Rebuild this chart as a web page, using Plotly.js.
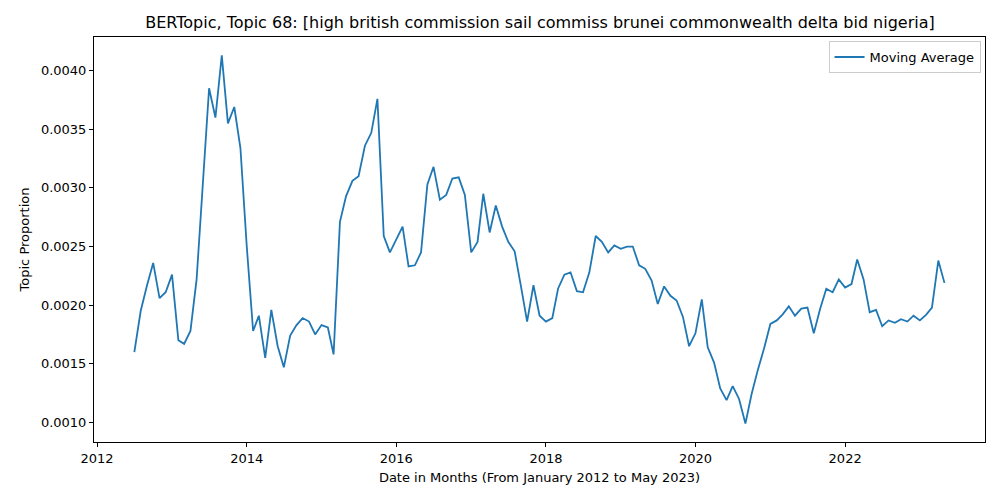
<!DOCTYPE html>
<html>
<head>
<meta charset="utf-8">
<script src="https://cdn.plot.ly/plotly-3.0.1.min.js"></script>
<style>body{margin:0;background:#fff}#graph{width:1000px;height:500px}</style>
</head>
<body>
<div id="graph"></div>
<script>
// monthly moving average, July 2012 .. May 2023
const startYear = 2012, startMonth = 7;
const movingAverage = [
  0.00160, 0.00195, 0.00217, 0.00236, 0.00206, 0.00211,
  0.00226, 0.00170, 0.00167, 0.00178, 0.00222, 0.00310, 0.00385, 0.00360, 0.00413, 0.00355, 0.00369, 0.00334,
  0.00250, 0.00178, 0.00191, 0.00155, 0.00196, 0.00165, 0.00147, 0.00174, 0.00183, 0.00189, 0.00186, 0.00175,
  0.00183, 0.00181, 0.00158, 0.00271, 0.00293, 0.00306, 0.00310, 0.00336, 0.00347, 0.00376, 0.00259, 0.00245,
  0.00256, 0.00267, 0.00233, 0.00234, 0.00245, 0.00303, 0.00318, 0.00290, 0.00294, 0.00308, 0.00309, 0.00294,
  0.00245, 0.00254, 0.00295, 0.00262, 0.00285, 0.00267, 0.00254, 0.00246, 0.00216, 0.00186, 0.00217, 0.00191,
  0.00186, 0.00189, 0.00214, 0.00226, 0.00228, 0.00212, 0.00211, 0.00228, 0.00259, 0.00254, 0.00245, 0.00251,
  0.00248, 0.00250, 0.00250, 0.00234, 0.00231, 0.00221, 0.00201, 0.00216, 0.00208, 0.00204, 0.00190, 0.00165,
  0.00176, 0.00205, 0.00164, 0.00151, 0.00129, 0.00119, 0.00131, 0.00120, 0.00099, 0.00124, 0.00145, 0.00163,
  0.00184, 0.00187, 0.00192, 0.00199, 0.00191, 0.00197, 0.00198, 0.00176, 0.00197, 0.00214, 0.00211, 0.00222,
  0.00215, 0.00218, 0.00239, 0.00222, 0.00194, 0.00196, 0.00182, 0.00187, 0.00185, 0.00188, 0.00186, 0.00191,
  0.00187, 0.00192, 0.00198, 0.00238, 0.00219
];
const tickYears = ['2012', '2014', '2016', '2018', '2020', '2022'];

const months = movingAverage.map((v, i) => {
  const m = startMonth - 1 + i;
  const y = startYear + Math.floor(m / 12);
  return y + '-' + String(m % 12 + 1).padStart(2, '0') + '-01';
});

const axisStyle = {
  showgrid: false, zeroline: false, showline: true, mirror: true,
  linecolor: '#000', linewidth: 1, ticks: 'outside', ticklen: 4, tickcolor: '#000',
  tickfont: {size: 13, color: '#000'}
};

const data = [{
  x: months, y: movingAverage, type: 'scatter', mode: 'lines',
  name: 'Moving Average', line: {color: '#1f77b4', width: 1.8}
}];

const layout = {
  width: 1000, height: 500,
  font: {family: 'DejaVu Sans', color: '#000'},
  margin: {l: 94, r: 15, t: 37, b: 58},
  paper_bgcolor: '#fff', plot_bgcolor: '#fff',
  title: {text: 'BERTopic, Topic 68: [high british commission sail commiss brunei commonwealth delta bid nigeria]',
    font: {size: 16}, x: 0.54, xanchor: 'center', y: 0.955, yanchor: 'middle'},
  xaxis: Object.assign({}, axisStyle, {
    type: 'date', range: ['2011-12-17', '2023-11-15'],
    tickvals: tickYears.map(y => y + '-01-01'), ticktext: tickYears,
    title: {text: 'Date in Months (From January 2012 to May 2023)', font: {size: 13}, standoff: 8}
  }),
  yaxis: Object.assign({}, axisStyle, {
    range: [0.000833, 0.004287], dtick: 0.0005, tickformat: '.4f',
    title: {text: 'Topic Proportion', font: {size: 13}, standoff: 8}
  }),
  showlegend: true,
  legend: {x: 0.995, y: 0.99, xanchor: 'right', yanchor: 'top', bgcolor: '#fff',
    bordercolor: '#ccc', borderwidth: 1, font: {size: 13}}
};

Plotly.newPlot('graph', data, layout, {displayModeBar: false});
</script>
</body>
</html>
